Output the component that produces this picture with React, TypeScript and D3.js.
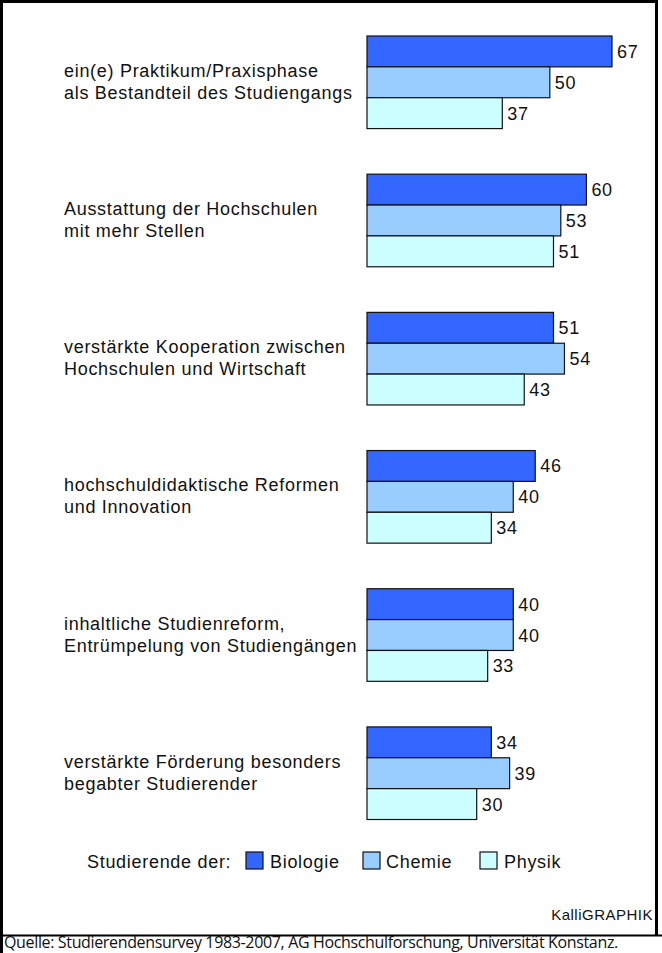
import React from "react";
import * as d3 from "d3";

const categories: string[][] = [
  ["ein(e) Praktikum/Praxisphase", "als Bestandteil des Studiengangs"],
  ["Ausstattung der Hochschulen", "mit mehr Stellen"],
  ["verstärkte Kooperation zwischen", "Hochschulen und Wirtschaft"],
  ["hochschuldidaktische Reformen", "und Innovation"],
  ["inhaltliche Studienreform,", "Entrümpelung von Studiengängen"],
  ["verstärkte Förderung besonders", "begabter Studierender"],
];
const seriesNames = ["Biologie", "Chemie", "Physik"];
const biologie = [67, 60, 51, 46, 40, 34];
const chemie = [50, 53, 54, 40, 40, 39];
const physik = [37, 51, 43, 34, 33, 30];
const colors = ["#3366ff", "#99ccff", "#ccffff"];
const legendTitle = "Studierende der:";
const credit = "KalliGRAPHIK";
const source = "Quelle: Studierendensurvey 1983-2007, AG Hochschulforschung, Universität Konstanz.";

export default function App() {
  const W = 662, H = 953;
  const series = [biologie, chemie, physik];
  const x = d3.scaleLinear().domain([0, 67]).range([367, 612]);
  const y = d3
    .scaleBand<number>()
    .domain(d3.range(categories.length))
    .range([36, 819.5])
    .paddingInner(0.33);
  const inner = d3.scaleBand<number>().domain([0, 1, 2]).range([0, y.bandwidth()]);
  const font = "'Liberation Sans', Arial, sans-serif";
  const fs = 18;
  const ls = 0.7;
  const legendItems = [
    { box: 246, text: 270 },
    { box: 363, text: 386 },
    { box: 480, text: 504 },
  ];
  return (
    <svg width={W} height={H} style={{ position: "absolute", left: 0, top: 0, background: "#fff" }}>
      <rect x={0} y={0} width={W} height={H} fill="#fff" />
      <path d="M1.5,953 V1.5 H656.5 V935.5" fill="none" stroke="#000" strokeWidth={3} />
      <line x1={0} x2={W} y1={935.5} y2={935.5} stroke="#000" strokeWidth={2} />
      {categories.map((lines, i) => {
        const y0 = y(i)!;
        const cy = y0 + y.bandwidth() / 2;
        return (
          <g key={i}>
            {lines.map((l, k) => (
              <text
                key={k}
                x={64}
                y={cy - 5.5 + k * 22}
                fontFamily={font}
                fontSize={fs}
                letterSpacing={ls}
                fill="#111"
              >
                {l}
              </text>
            ))}
            {series.map((s, j) => {
              const by = y0 + inner(j)!;
              const bh = inner.bandwidth();
              return (
                <g key={j}>
                  <rect
                    x={x(0)}
                    y={by}
                    width={x(s[i]) - x(0)}
                    height={bh}
                    fill={colors[j]}
                    stroke="#111"
                    strokeWidth={1.2}
                  />
                  <text
                    x={x(s[i]) + 5}
                    y={by + bh / 2}
                    dy="0.36em"
                    fontFamily={font}
                    fontSize={fs}
                    letterSpacing={ls}
                    fill="#111"
                  >
                    {s[i]}
                  </text>
                </g>
              );
            })}
          </g>
        );
      })}
      <text x={87} y={868} fontFamily={font} fontSize={fs} letterSpacing={ls} fill="#111">
        {legendTitle}
      </text>
      {seriesNames.map((n, j) => (
        <g key={n}>
          <rect
            x={legendItems[j].box}
            y={852}
            width={17}
            height={17}
            fill={colors[j]}
            stroke="#111"
            strokeWidth={1.2}
          />
          <text x={legendItems[j].text} y={868} fontFamily={font} fontSize={fs} letterSpacing={ls} fill="#111">
            {n}
          </text>
        </g>
      ))}
      <text x={653} y={920} textAnchor="end" fontFamily={font} fontSize={15} letterSpacing={0.5} fill="#111">
        {credit}
      </text>
      <text x={4} y={948} fontFamily="'Open Sans', sans-serif" fontSize={16} letterSpacing={-0.35} fill="#111">
        {source}
      </text>
    </svg>
  );
}
